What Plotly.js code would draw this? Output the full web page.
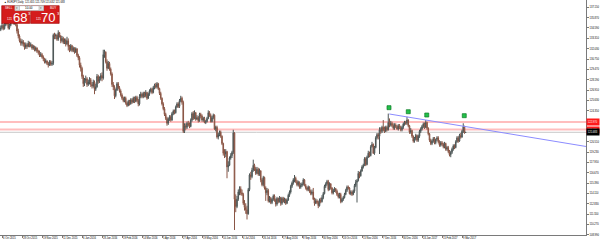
<!DOCTYPE html>
<html><head><meta charset="utf-8">
<script src="https://cdn.plot.ly/plotly-3.0.1.min.js"></script>
<style>html,body{margin:0;padding:0;background:#fff}#chart{width:600px;height:242px}</style>
</head><body><div id="chart"></div>
<script>
// EURJPY Daily — closes, highs, lows per trading day (index 0 = 5 Oct 2015)
const firstOpen = 134.4;
const closes = [
134.6,134.9,134.5,135.0,135.3,135.1,134.6,134.9,135.5,135.6,135.2,135.4,135.0,134.2,133.6,133.0,132.7,
132.9,132.6,132.2,132.5,132.3,132.7,132.4,132.5,132.1,132.3,131.9,132.1,131.7,131.6,131.2,131.3,
131.0,130.8,130.4,130.5,130.2,130.0,130.4,130.1,130.2,133.7,133.6,133.7,133.2,134.0,133.6,133.0,
133.3,132.8,133.1,132.6,133.0,132.3,131.9,132.4,131.8,132.1,131.6,132.0,131.2,130.9,130.0,129.6,128.6,
127.7,128.1,128.3,127.6,127.9,128.2,127.6,127.4,127.9,127.0,127.3,128.6,128.0,128.3,128.7,128.4,131.3,
131.6,130.4,129.6,130.2,129.5,128.9,127.6,127.3,126.2,126.9,127.7,127.2,126.8,126.3,
125.9,125.6,125.9,125.3,125.0,125.5,125.2,125.7,125.4,125.9,125.5,126.0,125.6,125.2,126.1,126.4,
126.1,126.5,126.2,126.6,125.9,126.4,126.8,127.0,126.6,127.2,127.5,127.3,127.7,127.1,126.5,125.9,
125.2,124.6,123.9,123.4,122.8,123.3,123.6,123.2,124.0,124.3,124.1,124.8,125.2,124.9,125.6,125.9,
125.4,121.8,122.5,122.3,122.8,122.6,122.4,123.2,124.0,123.4,124.1,123.3,123.5,123.1,123.9,123.7,
123.2,123.4,122.9,123.0,123.4,124.1,123.8,123.0,123.5,123.8,122.1,122.3,121.1,121.4,121.7,121.2,
120.3,119.1,119.0,119.3,117.4,117.6,118.5,118.8,119.2,121.6,113.4,112.5,113.4,114.3,114.7,114.2,
114.0,112.9,112.4,112.1,111.6,114.6,116.4,116.2,117.0,117.6,117.2,116.6,117.1,116.5,116.9,115.8,
115.2,116.1,114.8,114.2,114.5,113.2,113.5,113.0,113.4,113.8,113.3,112.8,113.5,113.1,113.6,112.9,
113.5,113.1,113.4,112.9,113.3,113.9,114.3,115.0,115.4,115.8,116.0,115.6,115.2,115.5,114.9,115.1,
115.3,115.8,115.1,114.8,114.6,114.9,114.4,114.1,114.3,113.4,112.9,113.2,113.0,112.6,113.3,113.1,
113.6,114.1,115.0,115.3,115.6,114.6,115.3,114.8,114.2,114.5,114.7,114.4,114.0,113.7,114.0,113.1,
113.4,113.6,114.0,114.5,114.9,114.8,114.1,114.3,114.0,114.4,115.1,115.5,115.7,116.6,116.3,116.9,
117.4,117.6,118.4,117.7,118.6,119.1,118.8,119.9,120.2,119.1,119.8,121.0,121.4,121.2,122.0,121.8,
122.3,122.0,121.8,122.3,122.0,122.9,122.6,122.8,122.5,122.2,122.6,122.4,122.1,122.5,122.3,122.0,
122.3,122.7,122.9,122.8,123.2,122.5,121.7,121.9,121.2,120.6,120.9,121.3,120.7,121.2,121.8,122.1,
122.4,122.7,122.3,122.9,122.2,121.5,120.7,120.3,120.6,120.9,120.4,120.8,121.0,120.5,120.1,120.4,
120.2,119.9,120.3,119.6,119.8,119.3,118.9,119.2,119.6,120.0,119.8,120.5,121.0,120.6,121.3,121.1,
121.8,122.4,121.655,121.683];
const highs = [
134.9,135.2,135.1,135.3,135.6,135.5,135.2,135.1,135.7,136.0,135.8,135.6,135.6,135.3,134.5,133.8,133.3,
133.2,133.1,132.8,132.8,132.7,133.0,132.9,132.8,132.6,132.5,132.4,132.3,132.2,131.9,131.8,131.6,
131.5,131.2,130.9,130.8,130.6,130.4,130.6,130.6,130.5,133.9,134.0,133.9,133.8,134.3,134.1,133.7,
133.6,133.5,133.3,133.3,133.5,133.3,132.5,132.6,132.5,132.3,132.2,132.2,132.1,131.4,131.1,130.3,129.8,
128.8,128.4,128.7,128.5,128.2,128.5,128.4,127.9,128.2,128.1,127.7,128.9,128.8,128.6,129.0,129.1,131.9,
131.9,131.7,130.7,130.5,130.4,129.7,129.1,127.9,127.5,127.1,127.9,127.9,127.4,127.0,
126.5,126.1,126.1,126.1,125.5,125.7,125.7,125.9,125.9,126.1,126.1,126.2,126.2,125.8,126.4,126.7,
126.6,126.7,126.7,126.9,126.7,126.6,127.0,127.2,127.2,127.4,127.7,127.8,127.9,127.8,127.2,126.7,
126.0,125.4,124.8,124.1,123.6,123.5,123.8,123.8,124.2,124.5,124.5,125.0,125.4,125.4,125.8,126.2,
126.1,125.6,122.8,122.8,123.0,123.1,122.9,123.4,124.2,124.3,124.4,124.2,123.8,123.7,124.1,124.1,
123.9,123.6,123.6,123.2,123.6,124.4,124.3,124.0,123.7,124.0,123.9,122.5,122.5,121.6,121.9,121.9,
121.3,120.4,119.6,119.6,119.4,118.1,118.7,119.1,119.4,122.0,121.7,114.0,113.8,114.6,115.0,115.0,
114.6,114.2,113.3,112.9,112.6,114.8,116.6,116.8,117.3,118.3,117.8,117.4,117.4,117.3,117.2,117.0,
116.0,116.3,116.2,115.0,114.8,114.7,113.8,113.7,113.6,114.0,114.0,113.5,113.7,113.6,113.8,113.7,
113.7,113.7,113.6,113.5,113.5,114.1,114.5,115.2,115.6,116.0,116.4,116.2,115.8,115.7,115.6,115.4,
115.5,116.0,115.9,115.3,115.0,115.1,115.0,114.6,114.6,114.8,113.6,113.5,113.4,113.2,113.5,113.6,
113.9,114.3,115.2,115.5,115.8,115.8,115.5,115.4,114.9,114.7,114.9,114.8,114.6,114.2,114.2,114.2,
113.6,113.8,114.2,114.7,115.1,115.1,114.9,114.5,114.5,114.6,115.3,115.8,115.9,116.9,116.8,117.1,
117.6,117.8,118.6,118.6,118.8,119.4,119.3,120.1,120.5,120.3,120.0,121.2,121.6,121.6,122.3,122.3,
122.5,123.2,122.4,122.5,122.5,124.0,123.4,123.1,123.0,122.8,122.8,122.8,122.6,122.7,122.7,122.5,
122.5,122.9,123.1,123.1,123.6,123.3,122.6,122.2,122.0,121.3,121.1,121.5,121.4,121.4,122.0,122.3,
122.6,122.9,122.9,123.2,123.0,122.3,121.6,120.9,120.8,121.1,121.1,120.9,121.2,121.2,120.7,120.6,
120.6,120.4,120.5,120.4,120.0,120.0,119.5,119.4,119.8,120.2,120.2,120.7,121.2,121.2,121.5,121.6,
122.0,122.8,122.5,121.709];
const lows = [
134.2,134.4,134.3,134.4,134.8,134.9,134.4,134.4,134.8,135.2,135.0,135.0,134.8,133.9,133.3,132.8,132.4,
132.4,132.3,131.9,132.0,132.0,132.2,132.2,132.2,131.9,131.9,131.7,131.7,131.5,131.3,131.0,131.0,
130.8,130.5,130.2,130.2,130.0,129.7,129.9,129.9,129.9,130.0,133.2,133.2,133.0,133.0,133.4,132.7,
132.8,132.6,132.6,132.3,132.5,131.8,131.6,131.7,131.6,131.6,131.4,131.5,131.0,130.6,129.7,129.2,128.3,
127.3,127.4,127.8,127.3,127.4,127.6,127.3,127.1,127.2,126.4,126.8,127.2,127.7,127.8,128.1,128.0,128.2,
130.9,130.2,129.3,129.5,129.3,128.7,127.3,126.9,125.8,126.0,126.8,127.0,126.6,126.1,
125.7,125.4,125.4,125.1,124.8,124.9,125.0,125.1,125.2,125.3,125.3,125.4,125.4,124.9,125.0,125.9,
125.9,125.9,126.0,126.0,125.7,125.8,126.2,126.6,126.4,126.5,127.0,127.1,127.1,126.9,126.3,125.7,
125.0,124.4,123.7,123.2,122.5,122.6,123.1,123.0,123.1,123.8,123.9,124.0,124.7,124.7,124.7,125.4,
125.1,121.6,121.6,122.0,122.1,122.4,122.2,122.3,123.0,123.2,123.3,123.1,123.2,122.9,123.0,123.4,
123.0,123.0,122.8,122.7,122.9,123.3,123.6,122.9,122.9,123.3,122.0,121.8,120.9,120.8,121.2,121.0,
120.1,118.8,118.5,118.6,116.0,116.8,117.5,118.3,118.5,119.0,109.6,111.8,112.3,113.2,113.9,113.9,
113.8,112.7,112.0,111.6,110.9,111.5,114.4,115.8,116.0,116.8,116.9,116.4,116.5,116.3,116.3,115.5,
115.0,115.0,114.6,113.2,113.9,113.0,113.0,112.8,112.8,113.2,113.1,112.5,112.6,112.9,113.0,112.6,
112.7,113.0,112.9,112.7,112.8,113.2,113.7,114.1,114.8,115.2,115.5,115.4,115.0,115.0,114.7,114.7,
114.9,115.1,115.0,114.6,114.4,114.4,114.2,113.9,113.9,113.3,112.6,112.8,112.8,112.3,112.5,112.9,
113.0,113.4,114.0,114.8,115.1,114.4,114.5,114.6,114.0,114.0,114.3,114.2,113.8,113.5,113.5,112.9,
113.0,113.2,113.5,113.9,114.3,114.6,114.0,113.9,113.8,113.9,114.2,114.9,113.0,115.6,116.0,116.2,
116.8,117.2,117.5,117.5,117.6,118.5,118.6,118.7,119.8,119.0,118.9,119.7,120.8,120.8,119.0,121.5,
121.6,121.8,121.6,121.7,121.8,121.9,122.3,122.4,122.3,122.0,122.0,122.2,122.0,121.9,122.1,121.8,
121.8,122.1,122.5,122.6,122.6,122.3,121.5,121.5,121.0,120.4,120.4,120.7,120.5,120.5,121.0,121.6,
121.9,122.2,122.1,122.2,122.0,121.3,120.5,120.1,120.1,120.4,120.2,120.2,120.6,120.3,119.9,119.9,
120.0,119.7,119.7,119.4,119.4,119.1,118.7,118.6,119.0,119.4,119.6,119.7,120.4,120.4,120.5,120.9,
121.0,121.6,121.5,121.632];

// Date labels: every 16 bars starting at bar 1
const dateLabels = ['6 Oct 2015','28 Oct 2015','19 Nov 2015','11 Dec 2015','6 Jan 2016','28 Jan 2016',
 '19 Feb 2016','14 Mar 2016','5 Apr 2016','27 Apr 2016','19 May 2016','10 Jun 2016','4 Jul 2016',
 '26 Jul 2016','17 Aug 2016','8 Sep 2016','30 Sep 2016','24 Oct 2016','15 Nov 2016','7 Dec 2016',
 '30 Dec 2016','24 Jan 2017','15 Feb 2017','9 Mar 2017'];
const labelBars = [1,17,33,49,65,81,97,113,129,145,161,177,193,209,225,241,257,273,289,305,321,337,353,369];
// Price-axis labels (the two hidden behind the level/bid tags are left out)
const yTicks = [108.990,110.270,111.550,112.830,114.110,115.390,116.670,117.950,119.230,120.510,
 124.350,125.630,126.910,128.190,129.470,130.750,132.030,133.310,134.590,135.870,137.150];

// Horizontal levels, bid, trend line, arrow marks
const levels = [122.97, 122.03];
const bid = 121.683;
const trendX = [310.8, 468.2];
const trendY = [123.95, 119.93];
const markX = [310.6, 326.0, 340.8, 370.8];
const markY = [124.73, 124.23, 123.82, 123.74];

const n = closes.length;
const xs = [], opens = [], hi = [], lo = [];
for (let i = 0; i < n; i++) {
  xs.push(i);
  const o = i === 0 ? firstOpen : closes[i-1];
  opens.push(o);
  hi.push(Math.max(highs[i], o, closes[i]));
  lo.push(Math.min(lows[i], o, closes[i]));
}

const W = 586, H = 235; // plot area in px
const px = v => v / W, py = v => 1 - v / H;
const FONT = 'Liberation Sans, Arial, sans-serif';
const SMALL = 2.6;

const traces = [
  {type:'candlestick', x:xs, open:opens, high:hi, low:lo, close:closes,
   increasing:{line:{color:'#4c5656', width:1}, fillcolor:'#b7bfbf'},
   decreasing:{line:{color:'#8a5646', width:1}, fillcolor:'#c08470'},
   whiskerwidth:0, hoverinfo:'skip', showlegend:false},
  {type:'scatter', mode:'lines', x:trendX, y:trendY, line:{color:'#8c8cff', width:1},
   hoverinfo:'skip', showlegend:false},
  {type:'scatter', mode:'markers', x:markX, y:markY,
   marker:{symbol:'square', size:4, color:'#22c04a', line:{color:'#0b7a25', width:0.7}},
   hoverinfo:'skip', showlegend:false}
];

const shapes = [];
levels.forEach(l => shapes.push({type:'line', xref:'paper', x0:0, x1:1, yref:'y', y0:l, y1:l,
  line:{color:'rgba(255,110,110,0.45)', width:2}, layer:'below'}));
shapes.push({type:'line', xref:'paper', x0:0, x1:1, yref:'y', y0:bid, y1:bid,
  line:{color:'#c8c8c8', width:1}, layer:'below'});
// one-click trading panel
function rect(x0,y0,x1,y1,fill,line){
  shapes.push({type:'rect', xref:'paper', yref:'paper', x0:px(x0), x1:px(x1), y0:py(y1), y1:py(y0),
    fillcolor:fill, line:{color:line, width:0.6}, layer:'above'});
}
rect(1.7,5.7,29.8,23.4,'#d41c1c','#9a0000');
rect(30.6,5.7,59.2,23.4,'#d41c1c','#9a0000');
rect(15,5.7,43.5,10.6,'#ffffff','#aaaaaa');
rect(15,5.9,19.5,10.4,'#e2e2e2','#b0b0b0');
rect(39,5.9,43.5,10.4,'#e2e2e2','#b0b0b0');

const ann = [];
function txt(x,y,t,size,color,anchor){
  ann.push({xref:'paper', yref:'paper', x:px(x), y:py(y), text:t, showarrow:false,
    xanchor:anchor||'left', yanchor:'middle', font:{family:FONT, size:size, color:color}});
}
txt(1.5,2.4,'▲ EURJPY,Daily  121.655 121.709 121.632 121.683',SMALL,'#000');
txt(3.2,8.2,'SELL',3,'#fff');
txt(57.5,8.2,'BUY',3,'#fff','right');
txt(29.2,8.2,'10.00',3,'#000','center');
txt(17.2,8.1,'▾',3,'#555','center');
txt(41.2,8.1,'▾',3,'#555','center');
txt(4.5,19.4,'121',3,'#fff');
txt(19.5,17.6,'68',13,'#fff','center');
txt(25.6,13.8,'3',4.2,'#fff');
txt(33.5,19.4,'121',3,'#fff');
txt(48,17.6,'70',13,'#fff','center');
txt(54.5,13.8,'3',4.2,'#fff');
// price tags on right axis
levels.forEach(l => ann.push({xref:'paper', x:1, xanchor:'left', yref:'y', y:l, yanchor:'middle',
  text:l.toFixed(3), showarrow:false, bgcolor:'#ff1a1a', borderpad:0.8,
  font:{family:FONT, size:SMALL, color:'#fff'}}));
ann.push({xref:'paper', x:1, xanchor:'left', yref:'y', y:bid, yanchor:'middle',
  text:bid.toFixed(3), showarrow:false, bgcolor:'#000', borderpad:0.8,
  font:{family:FONT, size:SMALL, color:'#fff'}});

const layout = {
  width:600, height:242, margin:{l:0, r:14, t:0, b:7},
  paper_bgcolor:'#fff', plot_bgcolor:'#fff', showlegend:false, hovermode:false,
  xaxis:{range:[-0.6, 468.2], rangeslider:{visible:false}, showgrid:false, zeroline:false,
    showline:true, linecolor:'#7a7a7a', linewidth:1, ticks:'outside', ticklen:2, tickcolor:'#7a7a7a',
    tickvals:labelBars, ticktext:dateLabels, ticklabelposition:'outside right', tickangle:0,
    automargin:false,
    tickfont:{family:FONT, size:SMALL, color:'#000'}, fixedrange:true},
  yaxis:{side:'right', range:[108.98, 138.05], showgrid:false, zeroline:false,
    showline:true, linecolor:'#7a7a7a', linewidth:1, ticks:'outside', ticklen:2, tickcolor:'#7a7a7a',
    tickvals:yTicks, tickformat:'.3f', automargin:false,
    tickfont:{family:FONT, size:SMALL, color:'#000'}, fixedrange:true},
  shapes:shapes, annotations:ann
};

Plotly.newPlot('chart', traces, layout, {staticPlot:true, displayModeBar:false});
</script></body></html>
